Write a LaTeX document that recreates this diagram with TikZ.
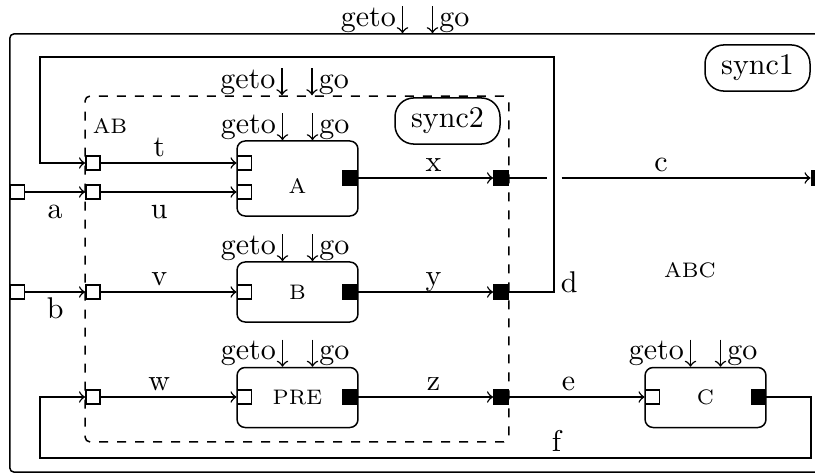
\documentclass[tikz,border=0pt]{standalone}
\usepackage{tikz}
\tikzset{
  port/.style={draw, minimum size=4.8pt, inner sep=0pt},
  inport/.style={port, fill=white},
  outport/.style={port, fill=black},
  block/.style={draw, rounded corners=2.7pt, minimum width=40.3pt, minimum height=20pt, font=\scriptsize},
  sync/.style={draw, rounded corners=6.3pt, minimum width=35pt, minimum height=12.7pt},
  lab/.style={inner sep=2pt, text height=1.5ex, text depth=0pt},
}
\begin{document}
\begin{tikzpicture}[x=0.3333pt, y=-0.3333pt, line width=0.5pt]
    \useasboundingbox (0,0) rectangle (815,473);
    \node[draw, rounded corners=1.3pt, minimum width=271.7pt, minimum height=146pt] (ABC) at (417.5,253) {};
    \node[draw, dashed, rounded corners=1.7pt, minimum width=141.3pt, minimum height=115.3pt] (AB) at (297,269) {};
    \node[font=\scriptsize] (ABname) at (110,126) {AB};
    \node[font=\scriptsize] (ABCname) at (690,270) {ABC};
    \node[sync] (sync1) at (757.5,68) {sync1};
    \node[sync] (sync2) at (447.5,121) {sync2};
    \node[block, minimum height=25pt] (A) at (297.5,178.5) {};
    \node[font=\scriptsize] (Aname) at (297.5,186.5) {A};
    \node[block] (B) at (297.5,292) {B};
    \node[block] (P) at (297.5,397.5) {PRE};
    \node[block] (C) at (705.5,397.5) {C};
    \node[inport] (in1) at (17.5,192) {};
    \node[inport] (in2) at (17.5,292) {};
    \node[outport] (out1) at (818.5,178) {};
    \foreach \i/\y in {1/163,2/192,3/292,4/397}
    \node[inport] (ab\i) at (93,\y) {};
    \foreach \i/\y in {1/178,2/292,3/397}
    \node[outport] (abo\i) at (501,\y) {};
    \node[inport] (A1) at (244.5,163) {};
    \node[inport] (A2) at (244.5,192) {};
    \node[outport] (Ao) at (350,178) {};
    \node[inport] (B1) at (244.5,292) {};
    \node[outport] (Bo) at (350,292) {};
    \node[inport] (P1) at (244.5,397) {};
    \node[outport] (Po) at (350,397) {};
    \node[inport] (C1) at (652.5,397) {};
    \node[outport] (Co) at (758.5,397) {};
    \draw[->] (in1) -- node[lab,below] (la) {a} (ab2);
    \draw[->] (in2) -- node[lab,below] (lb) {b} (ab3);
    \draw[->] (ab1) -- node[lab,above,pos=.43] (lt) {t} (A1);
    \draw[->] (ab2) -- node[lab,below,pos=.43] (lu) {u} (A2);
    \draw[->] (ab3) -- node[lab,above,pos=.43] (lv) {v} (B1);
    \draw[->] (ab4) -- node[lab,above,pos=.43] (lw) {w} (P1);
    \draw[->] (Ao) -- node[lab,above,pos=.56] (lx) {x} (abo1);
    \draw[->] (Bo) -- node[lab,above,pos=.56] (ly) {y} (abo2);
    \draw[->] (Po) -- node[lab,above,pos=.56] (lz) {z} (abo3);
    \draw[->] (abo3) -- node[lab,above,pos=.44] (le) {e} (C1);
    \coordinate (dcorner) at (554,292);
    \coordinate (dtop) at (40,57);
    \coordinate (cgap) at (dcorner |- abo1);
    \draw[->] (abo2) -- (dcorner) node[anchor=base west, inner sep=2pt] (ld) {d} |- (dtop) |- (ab1);
    \draw (abo1) -- ([xshift=-2.5pt]cgap);
    \draw[->] ([xshift=2.5pt]cgap) -- node[lab,above,pos=.4] (lc) {c} (out1);
    \coordinate (fright) at (811,458);
    \coordinate (fleft) at (40,458);
    \draw[->] (Co) -| (fright) -- node[lab,above,pos=.33] (lf) {f} (fleft) |- (ab4);
    \foreach \n in {ABC,AB,A,B,P,C}{
    \draw[->] ([xshift=-5pt,yshift=9pt]\n.north) -- ([xshift=-5pt]\n.north);
    \draw[->] ([xshift=5pt,yshift=9pt]\n.north) -- ([xshift=5pt]\n.north);
    \node[anchor=south east, inner xsep=2pt, inner ysep=0pt] (geto\n) at ([xshift=-5pt]\n.north) {geto};
    \node[anchor=south west, inner xsep=2pt, inner ysep=0pt] (go\n) at ([xshift=5pt]\n.north) {go};
    }
\end{tikzpicture}
\end{document}
